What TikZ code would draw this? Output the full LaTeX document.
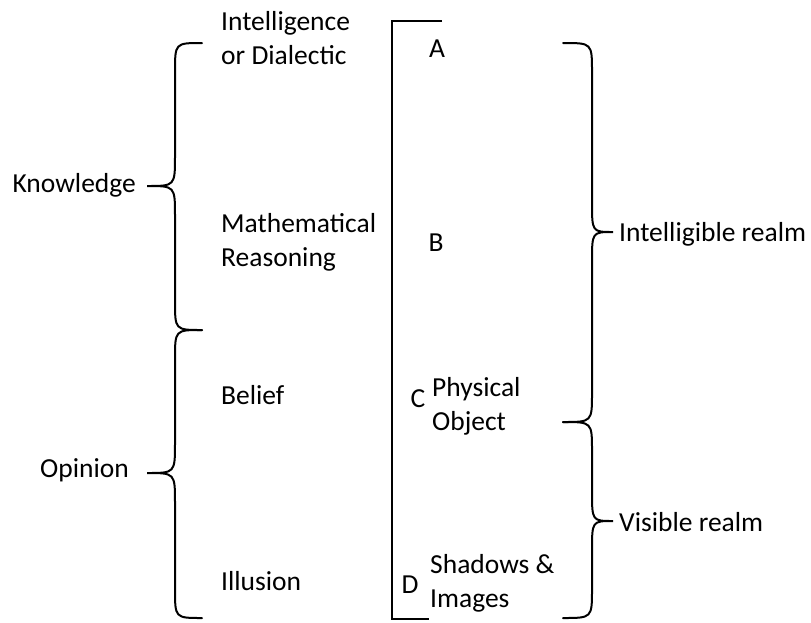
\documentclass[tikz,border=0pt]{standalone}
\usepackage{fontspec}
\setmainfont{Carlito}
\usetikzlibrary{positioning}

% brace with its point on the left: end x, stem x, point x, top y, point y, bottom y
\newcommand{\curlyleft}[6]{%
  \draw[bracestroke] (#1,#4) .. controls (#2,#4) .. (#2,#4+29) -- (#2,#5-30)
    .. controls (#2,#5) .. (#3,#5) .. controls (#2,#5) .. (#2,#5+30)
    -- (#2,#6-29) .. controls (#2,#6) .. (#1,#6);}

\begin{document}
\begin{tikzpicture}[
  x=1pt, y=-1pt,
  bracestroke/.style={line width=2pt, line cap=round},
  frameline/.style={line width=2pt},
  lbl/.style={font=\fontsize{27.5}{34}\selectfont, inner sep=0pt, align=left},
  letter/.style={font=\fontsize{27.5}{34}\selectfont, inner sep=0pt}
]
\useasboundingbox (0,0) rectangle (811,622);

% the levels of the line
\node[lbl, anchor=west] (intel) at (221,38) {Intelligence\\or Dialectic};
\node[lbl, anchor=west] (math) at (221,242) {Mathematical\\Reasoning};
\node[lbl, anchor=west] (belief) at (221,395) {Belief};
\node[lbl, anchor=west] (illusion) at (221,581) {Illusion};

\node[lbl, anchor=east] (knowl) at (136,185) {Knowledge};
\node[lbl, anchor=east] (opin) at (129,470) {Opinion};

% the divided line
\draw[frameline] (442,21) -- (392,21) -- (392,619) -- (429,619);
\node[letter] (lA) at (437,49) {A};
\node[letter] (lB) at (436,243) {B};
\node[letter] (lC) at (418,399) {C};
\node[lbl, anchor=west] (phys) at (432,406) {Physical\\Object};
\node[letter] (lD) at (410,585) {D};
\node[lbl, anchor=west] (shadows) at (430,583) {Shadows \&\\Images};

% braces on the left
\curlyleft{202}{175}{147}{43}{186}{330}
\curlyleft{202}{175}{147}{330}{473}{618}

% braces on the right (point on the right)
\curlyleft{563}{592}{613}{43}{232}{422}
\curlyleft{563}{592}{613}{422}{521}{618}

\node[lbl, anchor=west] (intrealm) at (619,234) {Intelligible realm};
\node[lbl, anchor=west] (visrealm) at (619,522) {Visible realm};
\end{tikzpicture}
\end{document}
